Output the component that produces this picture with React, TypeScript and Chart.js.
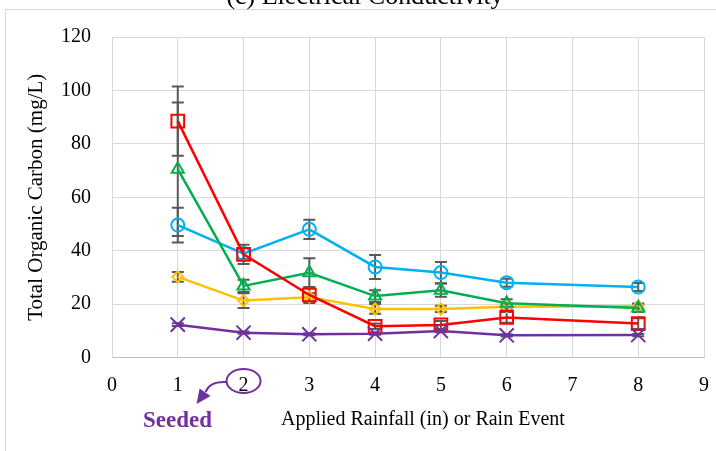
import React, { useEffect, useRef } from "react";
import { Chart, registerables } from "chart.js";

Chart.register(...registerables);

const rainEvents = [1, 2, 3, 4, 5, 6, 8];
const xTickValues = [0, 1, 2, 3, 4, 5, 6, 7, 8, 9];
const yTickValues = [0, 20, 40, 60, 80, 100, 120];

const squareSeries = [88.5, 38.6, 23.4, 11.7, 12.2, 15.0, 12.7];
const squareErr = [13, 3.6, 3, 1, 1.5, 2, 2];
const triangleSeries = [70.5, 26.8, 31.7, 23.0, 25.2, 20.3, 18.5];
const triangleErr = [25, 2.3, 5.5, 2.2, 2.5, 1.5, 1.5];
const circleSeries = [49.6, 38.9, 48.0, 33.9, 31.8, 28.0, 26.4];
const circleErr = [6.5, 2, 3.6, 4.5, 4, 1.5, 1.5];
const diamondSeries = [30.2, 21.3, 22.6, 18.2, 18.2, 19.0, 19.2];
const diamondErr = [1.8, 2.8, 1.5, 1.8, 1.2, 1, 1];
const crossSeries = [12.3, 9.3, 8.7, 8.9, 9.9, 8.3, 8.4];
const crossErr = [0.5, 0.4, 0.4, 0.4, 0.4, 0.4, 0.4];

const titleText = "(c) Electrical Conductivity";
const xTitleText = "Applied Rainfall (in) or Rain Event";
const yTitleText = "Total Organic Carbon (mg/L)";
const seededText = "Seeded";

const SERIF = "'Liberation Serif', 'DejaVu Serif', serif";
const PURPLE = "#7030A0";

const errorBarPlugin = {
  id: "errorBars",
  beforeDatasetsDraw(chart: any) {
    const ctx = chart.ctx;
    const xs = chart.scales.x;
    const ys = chart.scales.y;
    ctx.save();
    ctx.strokeStyle = "#595959";
    ctx.lineWidth = 2;
    chart.data.datasets.forEach((ds: any) => {
      const errs: number[] = ds.errors || [];
      ds.data.forEach((p: any, i: number) => {
        const e = errs[i];
        if (!e) return;
        const px = xs.getPixelForValue(p.x);
        const top = ys.getPixelForValue(p.y + e);
        const bot = ys.getPixelForValue(p.y - e);
        ctx.beginPath();
        ctx.moveTo(px, top);
        ctx.lineTo(px, bot);
        ctx.moveTo(px - 6, top);
        ctx.lineTo(px + 6, top);
        ctx.moveTo(px - 6, bot);
        ctx.lineTo(px + 6, bot);
        ctx.stroke();
      });
    });
    ctx.restore();
  },
};

const decorPlugin = {
  id: "decor",
  beforeDraw(chart: any) {
    const ctx = chart.ctx;
    ctx.save();
    ctx.strokeStyle = "#d9d9d9";
    ctx.lineWidth = 1;
    ctx.strokeRect(5.5, 9.5, 760, 500);
    ctx.restore();
  },
  afterDraw(chart: any) {
    const ctx = chart.ctx;
    const xs = chart.scales.x;
    ctx.save();
    // cut-off title
    ctx.fillStyle = "#000";
    ctx.font = `26px ${SERIF}`;
    ctx.textAlign = "center";
    ctx.textBaseline = "alphabetic";
    ctx.fillText(titleText, 365, 4);
    // x axis title
    ctx.font = `20px ${SERIF}`;
    ctx.textAlign = "left";
    ctx.fillText(xTitleText, 281, 425);
    // Seeded annotation
    ctx.fillStyle = PURPLE;
    ctx.font = `bold 23px ${SERIF}`;
    ctx.fillText(seededText, 143, 427);
    const cx = xs.getPixelForValue(2);
    ctx.strokeStyle = PURPLE;
    ctx.lineWidth = 2;
    ctx.beginPath();
    ctx.ellipse(cx, 381, 17, 12, 0, 0, Math.PI * 2);
    ctx.stroke();
    ctx.beginPath();
    ctx.moveTo(cx - 17, 382);
    ctx.quadraticCurveTo(cx - 34, 381, cx - 38, 392);
    ctx.stroke();
    ctx.fillStyle = PURPLE;
    ctx.beginPath();
    ctx.moveTo(cx - 47, 404);
    ctx.lineTo(cx - 44, 388.5);
    ctx.lineTo(cx - 33, 396);
    ctx.closePath();
    ctx.fill();
    ctx.restore();
  },
};

function toPoints(vals: number[]) {
  return vals.map((v, i) => ({ x: rainEvents[i], y: v }));
}

function makeDs(label: string, vals: number[], errs: number[], color: string, style: string, radius: number) {
  return {
    label,
    data: toPoints(vals),
    errors: errs,
    borderColor: color,
    borderWidth: 2.5,
    pointStyle: style,
    pointRadius: radius,
    pointHoverRadius: radius,
    pointBorderColor: color,
    pointBackgroundColor: "rgba(0,0,0,0)",
    pointBorderWidth: 2,
    fill: false,
    tension: 0,
  };
}

export default function App() {
  const ref = useRef<HTMLCanvasElement>(null);
  useEffect(() => {
    if (!ref.current) return;
    const chart = new Chart(ref.current, {
      type: "line",
      data: {
        datasets: [
          makeDs("Cross", crossSeries, crossErr, PURPLE, "crossRot", 10),
          makeDs("Square", squareSeries, squareErr, "#FF0000", "rect", 9),
          makeDs("Triangle", triangleSeries, triangleErr, "#00B050", "triangle", 7),
          makeDs("Diamond", diamondSeries, diamondErr, "#FFC000", "rectRot", 5.5),
          makeDs("Circle", circleSeries, circleErr, "#00B0F0", "circle", 6.5),
        ] as any,
      },
      options: {
        animation: false,
        responsive: false,
        devicePixelRatio: 1,
        layout: { padding: { left: 24, top: 37, right: 12, bottom: 0 } },
        plugins: { legend: { display: false }, tooltip: { enabled: false } },
        scales: {
          x: {
            type: "linear",
            min: 0,
            max: 9,
            afterBuildTicks: (s: any) => {
              s.ticks = xTickValues.map((v) => ({ value: v }));
            },
            afterFit: (s: any) => {
              s.height = 451 - 357.5;
            },
            ticks: {
              color: "#000",
              font: { family: SERIF, size: 20 },
              padding: 0,
              maxRotation: 0,
            },
            grid: {
              color: "#d9d9d9",
              drawTicks: true,
              tickLength: 16,
              tickColor: "rgba(0,0,0,0)",
              lineWidth: 1,
            },
            border: { color: "#bfbfbf", width: 1 },
          },
          y: {
            min: 0,
            max: 120,
            afterBuildTicks: (s: any) => {
              s.ticks = yTickValues.map((v) => ({ value: v }));
            },
            afterFit: (s: any) => {
              s.width = 112 - 24;
            },
            ticks: {
              color: "#000",
              font: { family: SERIF, size: 20 },
              padding: 21,
            },
            grid: { color: "#d9d9d9", drawTicks: false, lineWidth: 1 },
            border: { color: "#d9d9d9", width: 1 },
            title: {
              display: true,
              text: yTitleText,
              color: "#000",
              font: { family: SERIF, size: 21 },
              padding: 0,
            },
          },
        },
      } as any,
      plugins: [errorBarPlugin, decorPlugin],
    });
    return () => chart.destroy();
  }, []);
  return (
    <div style={{ position: "fixed", left: 0, top: 0, width: 716, height: 451, background: "#fff" }}>
      <canvas ref={ref} width={716} height={451} style={{ display: "block" }} />
    </div>
  );
}
